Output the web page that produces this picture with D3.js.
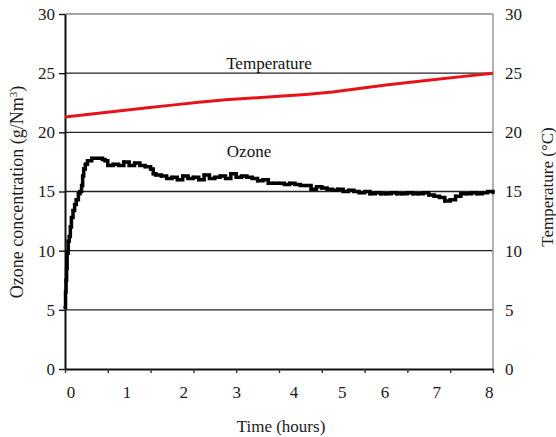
<!DOCTYPE html>
<html><head><meta charset="utf-8">
<script src="https://cdn.jsdelivr.net/npm/d3@7"></script>
<style>
html,body{margin:0;padding:0;background:#fff;}
svg{display:block;font-family:"Liberation Serif","Times New Roman",serif;}
</style></head>
<body>
<svg id="chart" width="556" height="437"></svg>
<script>
// ---- data ----
const yTicks = [0, 5, 10, 15, 20, 25, 30];
const xTickLabels = ["0","1","2","3","4","5","6","7","8"];
const xTickLabelAt = [0.11, 1.16, 2.22, 3.21, 4.28, 5.18, 5.98, 6.95, 7.93];
const xMinorTicks = [0, 0.8, 1.6, 2.4, 3.2, 4.0, 4.8, 5.6, 6.4, 7.2, 8.0];

const tempTime  = [0, 0.5, 1, 1.5, 2, 2.5, 3, 3.5, 4, 4.5, 5, 5.5, 6, 6.5, 7, 7.5, 8];
const tempValue = [21.3, 21.55, 21.8, 22.05, 22.3, 22.55, 22.75, 22.9, 23.05, 23.2, 23.4, 23.7, 24.0, 24.25, 24.5, 24.75, 25.0];

const ozoneTime = [0, 0.01, 0.02, 0.03, 0.04, 0.06, 0.08, 0.10, 0.12, 0.15, 0.18, 0.21, 0.25, 0.28, 0.31, 0.33, 0.35, 0.38, 0.42,
  0.5, 0.6, 0.7, 0.75, 0.8, 0.9, 1.0, 1.1, 1.2, 1.3, 1.4, 1.5, 1.6, 1.65, 1.7, 1.8, 1.9, 2.0, 2.1, 2.2, 2.3, 2.4, 2.5, 2.6,
  2.7, 2.8, 2.9, 3.0, 3.1, 3.2, 3.3, 3.4, 3.5, 3.6, 3.7, 3.8, 3.9, 4.0, 4.1, 4.2, 4.3, 4.4, 4.5, 4.6, 4.7, 4.8, 4.9, 5.0,
  5.1, 5.2, 5.3, 5.4, 5.5, 5.6, 5.7, 5.8, 5.9, 6.0, 6.1, 6.2, 6.3, 6.4, 6.5, 6.6, 6.7, 6.8, 6.9, 7.0, 7.1, 7.2, 7.3, 7.4,
  7.5, 7.6, 7.7, 7.8, 7.9, 8.0];
const ozoneValue = [5.2, 6.5, 7.5, 8.5, 9.8, 10.8, 11.2, 12.0, 12.8, 13.4, 13.9, 14.3, 14.8, 15.0, 15.5, 16.3, 16.9, 17.3, 17.6,
  17.8, 17.8, 17.7, 17.6, 17.2, 17.3, 17.2, 17.5, 17.2, 17.4, 17.2, 17.1, 16.9, 16.5, 16.4, 16.3, 16.1, 16.2, 16.0, 16.3, 16.1, 16.2, 16.0, 16.4,
  16.1, 16.2, 16.3, 16.1, 16.5, 16.2, 16.3, 16.2, 16.1, 15.9, 16.0, 15.7, 15.7, 15.7, 15.6, 15.7, 15.6, 15.5, 15.5, 15.2, 15.4, 15.3, 15.2, 15.1,
  15.2, 15.0, 15.1, 15.0, 14.9, 15.0, 14.8, 14.9, 14.8, 14.8, 14.9, 14.8, 14.8, 14.9, 14.8, 14.8, 14.9, 14.7, 14.6, 14.5, 14.2, 14.3, 14.6, 14.8,
  14.8, 14.9, 14.8, 14.9, 15.0, 14.9];

// ---- layout ----
const svg = d3.select("#chart");
const x = d3.scaleLinear().domain([0, 8]).range([65, 493]);
const y = d3.scaleLinear().domain([0, 30]).range([369, 14]);
const yR = d3.scaleLinear().domain([0, 30]).range([369, 14]);

// gridlines
svg.append("g").selectAll("line").data(yTicks.filter(d => d > 0)).join("line")
  .attr("x1", x(0)).attr("x2", x(8))
  .attr("y1", d => y(d)).attr("y2", d => y(d))
  .attr("stroke", d => d === 30 ? "#8a8a8a" : "#222").attr("stroke-width", 1.4);

// right axis
svg.append("line").attr("x1", x(8)).attr("x2", x(8)).attr("y1", yR(0)).attr("y2", yR(30))
  .attr("stroke", "#999").attr("stroke-width", 1.5);

// left axis
const leftAxis = d3.axisLeft(y).tickValues(yTicks).tickSize(6).tickSizeOuter(0).tickPadding(4);
const gl = svg.append("g").attr("transform", `translate(${x(0)},0)`).call(leftAxis);
gl.select(".domain").attr("stroke", "#111").attr("stroke-width", 2);
gl.selectAll(".tick line").attr("stroke", "#111").attr("stroke-width", 1.4);
gl.selectAll(".tick text").attr("font-size", 17).attr("fill", "#1a1a1a")
  .attr("font-family", "Liberation Serif, Times New Roman, serif");

// right tick labels
svg.append("g").selectAll("text").data(yTicks).join("text")
  .attr("x", x(8) + 12).attr("y", d => yR(d)).attr("dy", "0.35em")
  .attr("font-size", 17).attr("fill", "#1a1a1a").text(d => d);

// bottom axis
const bottomAxis = d3.axisBottom(x).tickValues(xMinorTicks).tickSize(4).tickSizeOuter(0).tickFormat("");
const gb = svg.append("g").attr("transform", `translate(0,${y(0)})`).call(bottomAxis);
gb.select(".domain").attr("stroke", "#111").attr("stroke-width", 2);
gb.selectAll(".tick line").attr("stroke", "#333").attr("stroke-width", 1.4);

svg.append("g").selectAll("text").data(xTickLabels).join("text")
  .attr("x", (d, i) => x(xTickLabelAt[i])).attr("y", 398)
  .attr("text-anchor", "middle").attr("font-size", 17).attr("fill", "#1a1a1a").text(d => d);

// temperature line
const tempData = tempTime.map((t, i) => [t, tempValue[i]]);
svg.append("path").datum(tempData)
  .attr("fill", "none").attr("stroke", "#e8121a").attr("stroke-width", 3)
  .attr("d", d3.line().x(d => x(d[0])).y(d => yR(d[1])));

// ozone line
const ozoneData = ozoneTime.map((t, i) => [t, ozoneValue[i]]);
svg.append("path").datum(ozoneData)
  .attr("fill", "none").attr("stroke", "#000").attr("stroke-width", 3.5)
  .attr("d", d3.line().curve(d3.curveStepAfter).x(d => x(d[0])).y(d => y(d[1])));
svg.append("g").selectAll("rect").data(ozoneData).join("rect")
  .attr("x", d => x(d[0]) - 1.5).attr("y", d => y(d[1]) - 1.5)
  .attr("width", 3).attr("height", 3).attr("fill", "#000");

// series labels
svg.append("text").attr("x", x(4.0) - 10).attr("y", 69).attr("text-anchor", "middle")
  .attr("font-size", 17).attr("fill", "#111").text("Temperature");
svg.append("text").attr("x", x(3.44)).attr("y", 157).attr("text-anchor", "middle")
  .attr("font-size", 17).attr("fill", "#111").text("Ozone");

// axis titles
svg.append("text").attr("transform", "translate(23,192) rotate(-90)")
  .attr("text-anchor", "middle").attr("font-size", 18).attr("fill", "#1a1a1a")
  .html("Ozone concentration (g/Nm<tspan baseline-shift='super' font-size='11'>3</tspan>)");
svg.append("text").attr("transform", "translate(553,187) rotate(-90)")
  .attr("text-anchor", "middle").attr("font-size", 17).attr("fill", "#1a1a1a")
  .text("Temperature (°C)");
svg.append("text").attr("x", 281).attr("y", 432).attr("text-anchor", "middle")
  .attr("font-size", 17).attr("fill", "#1a1a1a").text("Time (hours)");
</script>
</body></html>
